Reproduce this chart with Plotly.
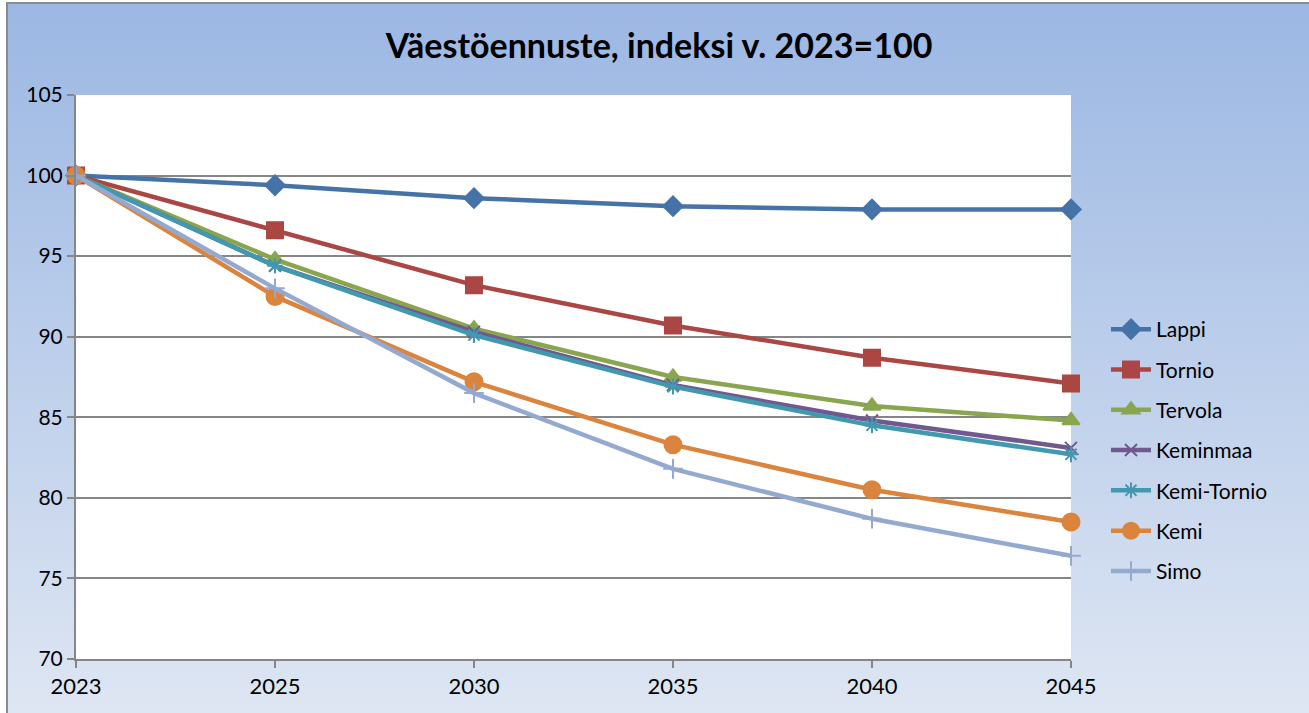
import base64
import plotly.graph_objects as go

years = ["2023", "2025", "2030", "2035", "2040", "2045"]
lappi = [100, 99.4, 98.6, 98.1, 97.9, 97.9]
tornio = [100, 96.6, 93.2, 90.7, 88.7, 87.1]
tervola = [100, 94.8, 90.5, 87.5, 85.7, 84.8]
keminmaa = [100, 94.4, 90.3, 87.0, 84.8, 83.1]
kemi_tornio = [100, 94.4, 90.1, 86.9, 84.5, 82.7]
kemi = [100, 92.5, 87.2, 83.3, 80.5, 78.5]
simo = [100, 93.0, 86.5, 81.8, 78.7, 76.4]

series = [
    ("Lappi", lappi, "#4572A7", "diamond", 15),
    ("Tornio", tornio, "#AA4643", "square", 16),
    ("Tervola", tervola, "#89A54E", "triangle-up", 15),
    ("Keminmaa", keminmaa, "#71588F", "x-thin", 12),
    ("Kemi-Tornio", kemi_tornio, "#4198AF", "asterisk", 13),
    ("Kemi", kemi, "#DB843D", "circle", 17),
    ("Simo", simo, "#93A9CF", "cross-thin", 14),
]

W, H = 1309, 713
FONT = "Lato, 'Open Sans', sans-serif"

fig = go.Figure()
xi = list(range(len(years)))
for name, vals, col, sym, size in series:
    fig.add_trace(go.Scatter(
        x=xi, y=vals, name=name, mode="lines+markers",
        legendgroup=name,
        line=dict(color=col, width=4.5),
        marker=dict(symbol=sym, size=size, color=col,
                    line=dict(color=col, width=2)),
        cliponaxis=False,
    ))

svg = (
    f'<svg xmlns="http://www.w3.org/2000/svg" width="{W}" height="{H}" preserveAspectRatio="none">'
    '<defs><linearGradient id="g" x1="0" y1="0" x2="0" y2="1">'
    '<stop offset="0" stop-color="#9BB7E3"/><stop offset="1" stop-color="#DEE6F3"/>'
    '</linearGradient></defs>'
    f'<rect x="0" y="0" width="{W}" height="{H}" fill="url(#g)"/></svg>'
)
src = "data:image/svg+xml;base64," + base64.b64encode(svg.encode()).decode()

l, r, t, b = 76, W - 1071, 95, H - 659
pw, ph = W - l - r, H - t - b


def px(x):
    return (x - l) / pw


def py(y):
    return (H - b - y) / ph


fig.add_layout_image(dict(
    source=src, xref="paper", yref="paper", x=px(7), y=py(3),
    sizex=px(W) - px(7), sizey=py(3) - py(H), xanchor="left", yanchor="top",
    sizing="stretch", layer="below",
))
fig.add_shape(type="rect", xref="paper", yref="paper",
              x0=0, y0=0, x1=1, y1=1,
              line=dict(width=0), fillcolor="white", layer="below")
fig.add_shape(type="rect", xref="paper", yref="paper",
              x0=px(7), y0=py(H + 5), x1=px(W + 5), y1=py(3),
              line=dict(color="#8C8C8C", width=2), fillcolor="rgba(0,0,0,0)", layer="below")

fig.update_layout(
    width=W, height=H,
    margin=dict(l=l, r=r, t=t, b=b, autoexpand=False),
    paper_bgcolor="white",
    plot_bgcolor="white",
    font=dict(family=FONT, size=21, color="#000000"),
    title=dict(text="<b>Väestöennuste, indeksi v. 2023=100</b>",
               x=659 / W, xanchor="center", xref="container",
               y=1 - 46 / H, yanchor="middle", yref="container",
               font=dict(family=FONT, size=34, color="#000000")),
    showlegend=True,
    legend=dict(x=px(1106), xanchor="left", y=py(309), yanchor="top",
                bgcolor="rgba(0,0,0,0)", tracegroupgap=10,
                font=dict(family=FONT, size=21), itemwidth=40),
    xaxis=dict(tickvals=xi, ticktext=years, range=[0, 5],
               showgrid=False, zeroline=False,
               showline=True, linecolor="#868686", linewidth=2,
               ticks="outside", ticklen=7, tickcolor="#868686", tickwidth=1.5,
               tickfont=dict(size=22)),
    yaxis=dict(range=[70, 105], dtick=5, showgrid=True, gridcolor="#868686",
               gridwidth=1.5, zeroline=False,
               showline=True, linecolor="#868686", linewidth=2,
               ticks="outside", ticklen=7, tickcolor="#868686", tickwidth=1.5,
               tickfont=dict(size=21)),
)

fig.write_html("out.html", config={"displayModeBar": False},
               post_script="document.body.style.margin='0';")
